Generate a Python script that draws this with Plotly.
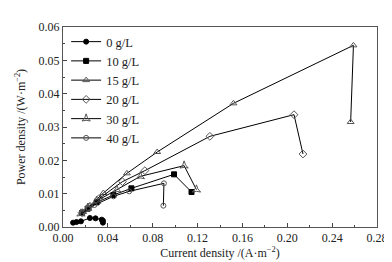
import plotly.graph_objects as go

# Current density (A/m2) and power density (W/m2) per series
names = ["0 g/L", "10 g/L", "15 g/L", "20 g/L", "30 g/L", "40 g/L"]

x0 = [0.009, 0.012, 0.016, 0.024, 0.029, 0.0345, 0.0356, 0.0356]
y0 = [0.0013, 0.0015, 0.0017, 0.0027, 0.0026, 0.0022, 0.0019, 0.0013]

x10 = [0.017, 0.022, 0.030, 0.045, 0.061, 0.099, 0.1146]
y10 = [0.0042, 0.0055, 0.0074, 0.0096, 0.0116, 0.0158, 0.0105]

x15 = [0.018, 0.024, 0.036, 0.057, 0.084, 0.152, 0.259, 0.2565]
y15 = [0.0045, 0.0065, 0.0102, 0.0161, 0.0225, 0.0371, 0.0545, 0.0315]

x20 = [0.017, 0.023, 0.032, 0.053, 0.073, 0.131, 0.206, 0.214]
y20 = [0.0043, 0.0060, 0.0085, 0.0136, 0.0169, 0.0272, 0.0337, 0.0219]

x30 = [0.016, 0.022, 0.030, 0.048, 0.069, 0.108, 0.119]
y30 = [0.0040, 0.0057, 0.0078, 0.0112, 0.0152, 0.0184, 0.0112]

x40 = [0.017, 0.023, 0.028, 0.045, 0.059, 0.090, 0.0895]
y40 = [0.0041, 0.0055, 0.0066, 0.0092, 0.0107, 0.0131, 0.0064]

xs = [x0, x10, x15, x20, x30, x40]
ys = [y0, y10, y15, y20, y30, y40]
symbols = ["circle", "square", "triangle-up-open", "diamond-open", "star-triangle-up-open", "circle-open"]
sizes = [5, 5, 6, 6, 6, 5]

fig = go.Figure()
for n, x, y, s, sz in zip(names, xs, ys, symbols, sizes):
    c = "black" if "open" not in s else "#555"
    fig.add_trace(go.Scatter(
        x=x, y=y, name=n, mode="lines+markers",
        line=dict(color="black", width=1),
        marker=dict(symbol=s, size=sz, color=c, line=dict(color=c, width=1)),
    ))

font = dict(family="Liberation Serif, Times New Roman, serif", size=12, color="#222")

fig.update_layout(
    width=392, height=262,
    margin=dict(l=52, r=23, t=13, b=40),
    paper_bgcolor="white", plot_bgcolor="white",
    font=font,
    showlegend=True,
    legend=dict(x=0.01, y=1.0, xanchor="left", yanchor="top",
                bgcolor="rgba(0,0,0,0)", font=dict(size=12.5, family=font["family"]),
                itemwidth=30, tracegroupgap=0),
)
fig.update_xaxes(
    range=[0, 0.28], dtick=0.04, tickformat=".2f",
    ticks="inside", ticklen=4, tickcolor="#444",
    minor=dict(ticks="inside", dtick=0.02, ticklen=2, tickcolor="#444"),
    showline=True, linecolor="#555", linewidth=1, mirror=True,
    showgrid=False, zeroline=False,
    title=dict(text="Current density /(A·m<sup>−2</sup>)", standoff=4, font=dict(size=12)),
    tickfont=dict(size=12),
)
fig.update_yaxes(
    range=[0, 0.06], dtick=0.01, tickformat=".2f",
    ticks="inside", ticklen=4, tickcolor="#444",
    minor=dict(ticks="inside", dtick=0.005, ticklen=2, tickcolor="#444"),
    showline=True, linecolor="#555", linewidth=1, mirror=True,
    showgrid=False, zeroline=False,
    title=dict(text="Power density /(W·m<sup>−2</sup>)", standoff=10, font=dict(size=12)),
    tickfont=dict(size=12),
)

fig.write_html("out.html")
